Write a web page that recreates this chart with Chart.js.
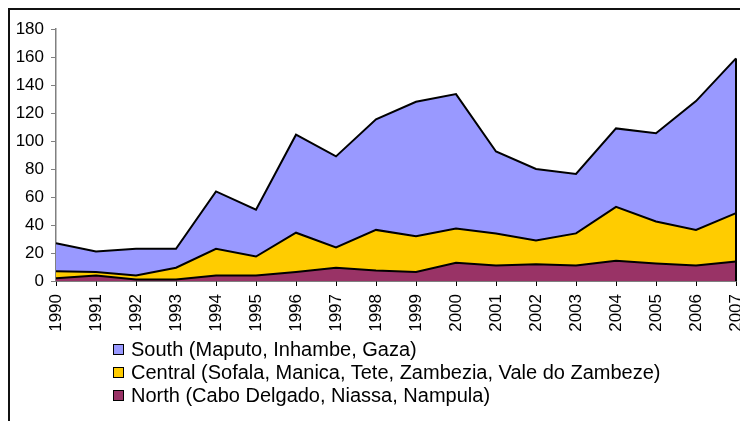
<!DOCTYPE html>
<html>
<head>
<meta charset="utf-8">
<script src="https://cdn.jsdelivr.net/npm/chart.js@4"></script>
<style>
    html, body { margin: 0; padding: 0; background: #fff; overflow: hidden; width: 740px; height: 421px; }
    #frame { position: absolute; left: 8px; top: 8px; width: 760px; height: 440px; border-left: 2px solid #111; border-top: 2px solid #111; }
    #wrap { position: absolute; left: 0; top: 0; width: 800px; height: 340px; }
    #legend { position: absolute; left: 113px; top: 338px; font-family: 'Liberation Sans', Arial, sans-serif; font-size: 20px; color: #000; }
    #legend div { height: 23px; line-height: 23px; white-space: nowrap; }
    #legend span.box { display: inline-block; width: 9px; height: 9px; border: 1px solid #000; margin-right: 7px; vertical-align: 1px; }
</style>
</head>
<body>
<div id="frame"></div>
<div id="wrap"><canvas id="areaChart" width="800" height="340"></canvas></div>
<div id="legend"></div>
<script>
const years = ['1990', '1991', '1992', '1993', '1994', '1995', '1996', '1997', '1998',
    '1999', '2000', '2001', '2002', '2003', '2004', '2005', '2006', '2007'];
const northValues = [2, 4, 1, 1, 4, 4, 6.5, 9.5, 7.5, 6.5, 13, 11, 12, 11, 14.5, 12.5, 11, 14];
const centralValues = [5, 2.5, 3, 8.5, 19, 13.5, 28, 14.5, 29, 25.5, 24.5, 23, 17, 23, 38.5, 30, 25.5, 34.5];
const southValues = [20, 14.5, 19, 13.5, 41, 33.5, 70, 65, 79, 96, 96, 58.5, 51, 42.5, 56, 63, 92, 110.5];
const yTicks = [0, 20, 40, 60, 80, 100, 120, 140, 160, 180];

const seriesNames = {
    north: 'North (Cabo Delgado, Niassa, Nampula)',
    central: 'Central (Sofala, Manica, Tete, Zambezia, Vale do Zambeze)',
    south: 'South (Maputo, Inhambe, Gaza)'
};

const font = { family: 'Liberation Sans', size: 17 };

// closes the stack on the right side like the original
const rightEdge = {
    id: 'rightEdge',
    afterDatasetsDraw(chart) {
        const x = chart.scales.x.getPixelForValue(years.length - 1);
        const last = years.length - 1;
        const top = chart.scales.y.getPixelForValue(northValues[last] + centralValues[last] + southValues[last]);
        const bottom = chart.scales.y.getPixelForValue(0);
        const ctx = chart.ctx;
        ctx.save();
        ctx.strokeStyle = '#000';
        ctx.lineWidth = 2;
        ctx.beginPath();
        ctx.moveTo(x, top);
        ctx.lineTo(x, bottom);
        ctx.stroke();
        ctx.restore();
    }
};

const ctxArea = document.getElementById('areaChart').getContext('2d');
const chart = new Chart(ctxArea, {
    type: 'line',
    data: {
        labels: years,
        datasets: [
            { key: 'north', label: seriesNames.north, data: northValues, backgroundColor: '#993366', borderColor: '#000', borderWidth: 2, fill: 'origin' },
            { key: 'central', label: seriesNames.central, data: centralValues, backgroundColor: '#FFCC00', borderColor: '#000', borderWidth: 2, fill: '-1' },
            { key: 'south', label: seriesNames.south, data: southValues, backgroundColor: '#9999FF', borderColor: '#000', borderWidth: 2, fill: '-1' }
        ]
    },
    options: {
        responsive: false,
        animation: false,
        devicePixelRatio: 1,
        layout: { padding: { top: 29, right: 64, left: 0, bottom: 0 } },
        elements: { point: { radius: 0 }, line: { tension: 0 } },
        scales: {
            x: {
                offset: false,
                afterFit: (scale) => { scale.height = 59; },
                grid: { drawOnChartArea: false, drawTicks: true, tickLength: 5, color: '#000', offset: false },
                border: { color: '#000', width: 1.5 },
                ticks: { autoSkip: false, minRotation: 90, maxRotation: 90, color: '#000', padding: 8, font: font }
            },
            y: {
                stacked: true,
                min: 0,
                max: 180,
                afterFit: (scale) => { scale.width = 56; },
                afterBuildTicks: (scale) => { scale.ticks = yTicks.map(v => ({ value: v })); },
                grid: { drawOnChartArea: false, drawTicks: true, tickLength: 5, color: '#808080' },
                border: { color: '#808080', width: 1.5 },
                ticks: { color: '#000', padding: 7, font: font }
            }
        },
        plugins: {
            legend: { display: false },
            tooltip: { enabled: false }
        }
    },
    plugins: [rightEdge]
});

// legend listed top series first
const legendEl = document.getElementById('legend');
chart.data.datasets.slice().reverse().forEach((ds) => {
    const row = document.createElement('div');
    const box = document.createElement('span');
    box.className = 'box';
    box.style.background = ds.backgroundColor;
    row.appendChild(box);
    row.appendChild(document.createTextNode(ds.label));
    legendEl.appendChild(row);
});
</script>
</body>
</html>
